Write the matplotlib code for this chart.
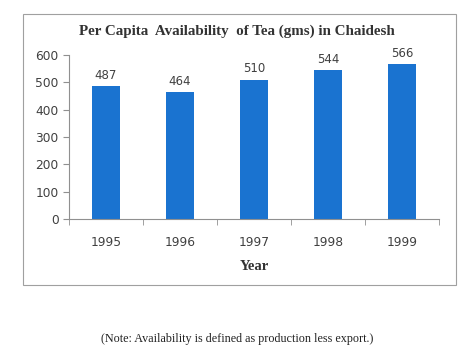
import matplotlib
matplotlib.use('Agg')
import matplotlib.pyplot as plt
from matplotlib.patches import Rectangle
import numpy as np

# data
years = ['1995', '1996', '1997', '1998', '1999']
tea = [487, 464, 510, 544, 566]

fig = plt.figure(figsize=(4.74, 3.61), dpi=100)
fig.patch.set_facecolor('white')

# chart border box
fig.patches.append(Rectangle((23 / 474, 1 - 285 / 361), 433 / 474, 271 / 361,
                             transform=fig.transFigure, fill=False,
                             edgecolor='#a0a0a0', linewidth=0.8))

ax = fig.add_axes([69 / 474, 1 - 219 / 361, 370 / 474, 164 / 361])
x = np.arange(len(years))
bars = ax.bar(x, tea, width=0.39, color='#1a73d0')
for xi, v in zip(x, tea):
    ax.text(xi, v + 15, str(v), ha='center', va='bottom', fontsize=8.5,
            color='#404040', family='DejaVu Sans')

ax.set_xlim(-0.5, len(years) - 0.5)
ax.set_ylim(0, 600)
ax.set_yticks(range(0, 601, 100))
ax.set_xticks(x)
ax.set_xticklabels(years)
ax.set_xticks(np.arange(-0.5, len(years), 1), minor=True)
ax.tick_params(axis='x', which='major', length=0, pad=12, labelsize=8.8, labelcolor='#404040')
ax.tick_params(axis='x', which='minor', length=4, color='#909090', direction='out')
ax.tick_params(axis='y', length=4, color='#909090', labelsize=8.8, labelcolor='#404040')
for s in ['top', 'right']:
    ax.spines[s].set_visible(False)
for s in ['left', 'bottom']:
    ax.spines[s].set_color('#909090')
    ax.spines[s].set_linewidth(0.8)

ax.set_xlabel('Year', fontsize=10.5, fontweight='bold', family='Liberation Serif',
              color='#333333', labelpad=8)

fig.text(0.5, 1 - 31 / 361, 'Per Capita  Availability  of Tea (gms) in Chaidesh',
         ha='center', va='center', fontsize=10.8, fontweight='bold',
         family='Liberation Serif', color='#333333')

fig.text(0.5, 1 - 339 / 361, '(Note: Availability is defined as production less export.)',
         ha='center', va='center', fontsize=8.7, family='Liberation Serif', color='#222222')

fig.savefig('out.png', dpi=100)
